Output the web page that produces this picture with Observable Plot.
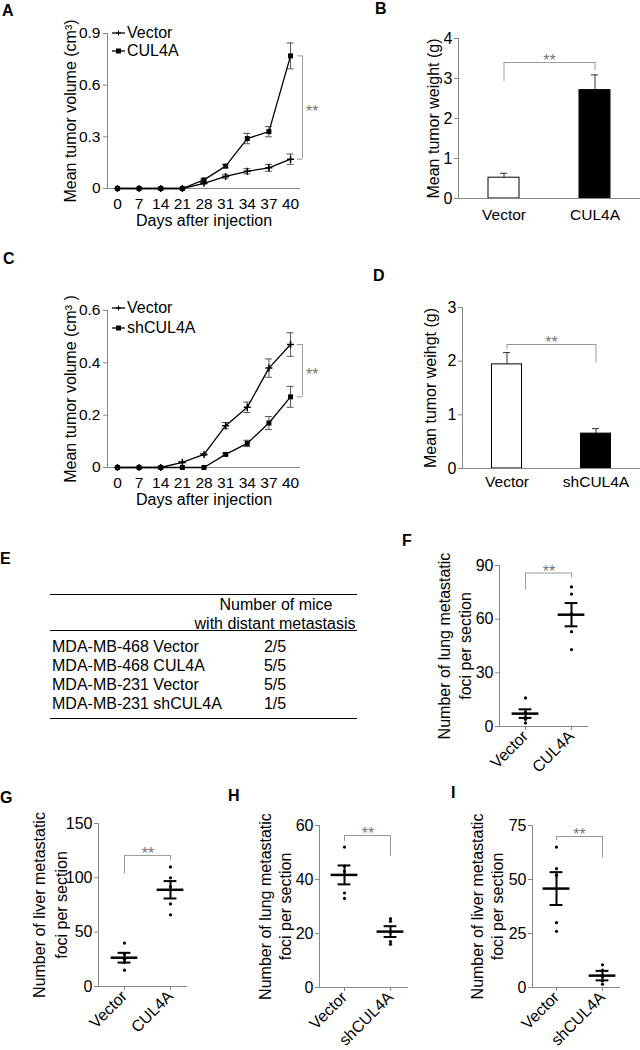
<!DOCTYPE html>
<html><head><meta charset="utf-8">
<script src="https://cdn.jsdelivr.net/npm/d3@7"></script>
<script src="https://cdn.jsdelivr.net/npm/@observablehq/plot@0.6"></script>
<style>
html,body{margin:0;padding:0;background:#fff;}
#fig{position:relative;width:640px;height:1050px;font-family:"Liberation Sans",Arial,Helvetica,sans-serif;color:#000;overflow:hidden;background:#fff;}
.panel{position:absolute;}
.letter{position:absolute;font-weight:bold;font-size:16px;line-height:1;}
.leg{position:absolute;font-size:16px;line-height:18px;height:18px;display:flex;align-items:center;white-space:nowrap;}
.leg svg{margin-right:2px;}
.trule{position:absolute;left:50px;width:307px;height:0;border-top:1.3px solid #000;}
.ttxt{position:absolute;font-size:16px;line-height:19px;height:19px;white-space:nowrap;}
</style></head>
<body><div id="fig"></div>
<script>
// ---------- data ----------
const days = ["0","7","14","21","28","31","34","37","40"];
// Panel A
const aVector    = [0,0,0,0,0.03,0.07,0.10,0.12,0.17];
const aVectorErr = [0,0,0,0,0.005,0.01,0.015,0.02,0.03];
const aCul4a     = [0,0,0,0,0.05,0.13,0.29,0.33,0.77];
const aCul4aErr  = [0,0,0,0,0.006,0.01,0.03,0.03,0.075];
const aTicks = [0,0.3,0.6,0.9];
// Panel C
const cVector    = [0,0,0,0.02,0.05,0.16,0.23,0.38,0.47];
const cVectorErr = [0,0,0,0.003,0.004,0.012,0.02,0.035,0.045];
const cSh        = [0,0,0,0,0,0.05,0.092,0.17,0.27];
const cShErr     = [0,0,0,0,0,0.005,0.012,0.025,0.04];
const cTicks = [0,0.2,0.4,0.6];
// Panel B
const bGroups = ["Vector","CUL4A"];
const bWeight = [0.52, 2.71];
const bErr    = [0.11, 0.38];
const bTicks  = [0,1,2,3,4];
// Panel D
const dGroups = ["Vector","shCUL4A"];
const dWeight = [1.94, 0.65];
const dErr    = [0.22, 0.093];
const dTicks  = [0,1,2,3];
// Panel E
const eHeader = ["Number of mice","with distant metastasis"];
const eRows   = ["MDA-MB-468 Vector","MDA-MB-468 CUL4A","MDA-MB-231 Vector","MDA-MB-231 shCUL4A"];
const eValues = ["2/5","5/5","5/5","1/5"];
// Panel F
const fGroups = ["Vector","CUL4A"];
const fVector = [16,8,5,4,2];
const fCul4a  = [78,74,63,53,43];
const fMean = [7.2, 62.5];
const fSem  = [2.4, 6.5];
const fTicks = [0,30,60,90];
// Panel G
const gGroups = ["Vector","CUL4A"];
const gVector = [40,30,25,22,15];
const gCul4a  = [110,100,92,76,66];
const gMean = [26.5, 89];
const gSem  = [4.5, 8];
const gTicks = [0,50,100,150];
// Panel H
const hGroups = ["Vector","shCUL4A"];
const hVector = [52,45,43,35,33];
const hSh     = [25.5,24.5,20.5,17,16];
const hMean = [41.7, 20.7];
const hSem  = [3.5, 2];
const hTicks = [0,20,40,60];
// Panel I
const iGroups = ["Vector","shCUL4A"];
const iVector = [65,55,52,30,26];
const iSh     = [10.5,8,5,3,1.5];
const iMean = [45.8, 5.5];
const iSem  = [7.6, 2.2];
const iTicks = [0,25,50,75];

// ---------- helpers ----------
const FONT = '"Liberation Sans", Arial, Helvetica, sans-serif';
const AX = "#888";
const BR = "#999";
const fig = document.getElementById("fig");
function place(node, left, top, width) {
  const d = document.createElement("div");
  d.className = "panel";
  d.style.left = left + "px"; d.style.top = top + "px"; d.style.width = width + "px";
  d.appendChild(node); fig.appendChild(d);
}
function letter(t, left, top) {
  const d = document.createElement("div");
  d.className = "letter"; d.textContent = t;
  d.style.left = left + "px"; d.style.top = top + "px";
  fig.appendChild(d);
}
function legendItem(label, sym, left, top) {
  const d = document.createElement("div");
  d.className = "leg"; d.style.left = left + "px"; d.style.top = (top - 9) + "px";
  const marker = sym === "square"
    ? '<rect x="4" y="3.5" width="5" height="5" fill="#000"/>'
    : '<path d="M6.5,3.5V8.5M4,6H9" stroke="#000" stroke-width="1"/>';
  d.innerHTML = '<svg width="13" height="12" viewBox="0 0 13 12"><line x1="0" y1="6" x2="13" y2="6" stroke="#000" stroke-width="1.3"/>' + marker + '</svg><span></span>';
  d.querySelector("span").textContent = label;
  fig.appendChild(d);
}
const style = {fontFamily: FONT, fontSize: "15.5px", overflow: "visible", background: "transparent", color: "#000"};

function linePanel(c) {
  const idx = days.map((d, i) => i);
  const last = idx.length - 1;
  const s1 = idx.map(i => ({i, v: c.v1[i], e: c.e1[i]}));
  const s2 = idx.map(i => ({i, v: c.v2[i], e: c.e2[i]}));
  const lo = -0.46, hi = last + 0.46;
  const top = Math.max(c.v1[last], c.v2[last]);
  const bot = Math.min(c.v1[last], c.v2[last]);
  const errs = [...s1, ...s2].filter(d => d.e > 0);
  return Plot.plot({
    width: 330, height: c.height, marginLeft: 107, marginRight: 30, marginTop: c.mt, marginBottom: c.mb,
    style,
    x: {domain: [lo, hi]},
    y: {domain: c.yDomain},
    marks: [
      Plot.ruleX([lo], {stroke: AX}),
      Plot.ruleY([0], {stroke: AX}),
      Plot.axisY({ticks: c.ticks, tickFormat: d => d === 0 ? "0" : d.toFixed(1), tickSize: 4, tickPadding: 3, stroke: AX, fill: "#000", fontSize: 15.5, label: null}),
      Plot.axisX({ticks: idx, tickFormat: i => days[i], tickSize: 0, tickPadding: 9, fill: "#000", fontSize: 15.5, label: null}),
      Plot.ruleX(errs, {x: "i", y1: d => d.v - d.e, y2: d => d.v + d.e, stroke: "#555"}),
      Plot.ruleY(errs, {x1: d => d.i - 0.16, x2: d => d.i + 0.16, y: d => d.v + d.e, stroke: "#555"}),
      Plot.ruleY(errs, {x1: d => d.i - 0.16, x2: d => d.i + 0.16, y: d => d.v - d.e, stroke: "#555"}),
      Plot.line(s1, {x: "i", y: "v", stroke: "#000", strokeWidth: 1.3}),
      Plot.line(s2, {x: "i", y: "v", stroke: "#000", strokeWidth: 1.3}),
      Plot.dot(s1, {x: "i", y: "v", symbol: c.sym1, r: 2.4, stroke: "#000", fill: c.sym1 === "square" ? "#000" : "none"}),
      Plot.dot(s2, {x: "i", y: "v", symbol: c.sym2, r: 2.8, fill: "#000", stroke: c.sym2 === "square" ? "none" : "#000"}),
      // significance bracket
      Plot.ruleX([last + 0.55], {y1: top, y2: bot, stroke: BR}),
      Plot.ruleY([top, bot], {x1: last + 0.32, x2: last + 0.55, stroke: BR}),
      Plot.text(["**"], {x: () => last + 1.0, y: () => (top + bot) / 2, dy: 4, fill: "#777", fontSize: 16}),
      // axis titles
      Plot.text([c.ylabel], {frameAnchor: "left", rotate: -90, dx: -37, textAnchor: "middle", lineAnchor: "middle", fontSize: 16}),
      Plot.text(["Days after injection"], {frameAnchor: "bottom", dy: 32, textAnchor: "middle", lineAnchor: "middle", fontSize: 16})
    ]
  });
}

function barPanel(c) {
  const data = c.groups.map((g, i) => ({g, v: c.values[i], e: c.errs[i], f: i === 0 ? "#fff" : "#000"}));
  const [g0, g1] = c.groups;
  return Plot.plot({
    width: 310, height: c.height, marginLeft: c.ml, marginRight: 0, marginTop: c.mt, marginBottom: c.mb,
    style,
    x: {type: "band", domain: c.groups, padding: 0},
    y: {domain: c.yDomain},
    color: {type: "identity"},
    marks: [
      Plot.ruleX(data, {x: "g", y1: "v", y2: d => d.v + d.e, stroke: "#333"}),
      Plot.ruleY(data, {x1: "g", x2: "g", y: d => d.v + d.e, insetLeft: c.capInset, insetRight: c.capInset, stroke: "#333"}),
      Plot.barY(data, {x: "g", y: "v", fill: "f", stroke: "#000", strokeWidth: 1, insetLeft: c.barInset, insetRight: c.barInset}),
      Plot.frame({anchor: "left", stroke: AX}),
      Plot.ruleY([0], {stroke: AX}),
      Plot.axisY({ticks: c.ticks, tickFormat: d => String(d), tickSize: 4, tickPadding: 2, stroke: AX, fill: "#000", fontSize: 16, label: null}),
      Plot.axisX({tickSize: 0, tickPadding: c.xPad, fill: "#000", fontSize: 15.5, label: null}),
      // bracket
      Plot.link([0], {x1: () => g0, x2: () => g1, y1: () => c.br.top, y2: () => c.br.top, stroke: BR}),
      Plot.ruleX([{g: g0, y: c.br.leg0}, {g: g1, y: c.br.leg1}], {x: "g", y1: () => c.br.top, y2: "y", stroke: BR}),
      Plot.text(["**"], {x: () => g0, y: () => c.br.top, dx: c.starDx, dy: -1.5, fill: "#777", fontSize: 16}),
      Plot.text([c.ylabel], {frameAnchor: "left", rotate: -90, dx: c.ylDx, textAnchor: "middle", lineAnchor: "middle", fontSize: 16})
    ]
  });
}

function scatterPanel(c) {
  const pts = c.groups.flatMap((g, i) => c.points[i].map(v => ({g, v})));
  const st = c.groups.map((g, i) => ({g, m: c.mean[i], s: c.sem[i]}));
  const [g0, g1] = c.groups;
  return Plot.plot({
    width: c.width, height: c.height, marginLeft: c.ml, marginRight: c.mr, marginTop: c.mt, marginBottom: c.mb,
    style: {...style, fontSize: "16px"},
    x: {type: "band", domain: c.groups, paddingInner: 0.4, paddingOuter: c.po, align: c.align},
    y: {domain: c.yDomain},
    marks: [
      Plot.frame({anchor: "left", stroke: AX}),
      Plot.ruleY([0], {stroke: AX}),
      Plot.axisY({ticks: c.ticks, tickFormat: d => String(d), tickSize: 4, tickPadding: 2, stroke: AX, fill: "#000", fontSize: 16, label: null}),
      Plot.axisX({tickRotate: -45, tickSize: 4, tickPadding: 3, stroke: AX, fill: "#000", fontSize: 16, label: null}),
      Plot.dot(pts, {x: "g", y: "v", r: 1.6, fill: "#000"}),
      Plot.tickY(st, {x: "g", y: "m", stroke: "#000", strokeWidth: 2.5, insetLeft: 0.6, insetRight: 0.6}),
      Plot.ruleX(st, {x: "g", y1: d => d.m - d.s, y2: d => d.m + d.s, stroke: "#000", strokeWidth: 2}),
      Plot.tickY(st, {x: "g", y: d => d.m + d.s, stroke: "#000", strokeWidth: 2, insetLeft: 7.6, insetRight: 7.6}),
      Plot.tickY(st, {x: "g", y: d => d.m - d.s, stroke: "#000", strokeWidth: 2, insetLeft: 7.6, insetRight: 7.6}),
      // bracket
      Plot.link([0], {x1: () => g0, x2: () => g1, y1: () => c.br.top, y2: () => c.br.top, stroke: BR}),
      Plot.ruleX([{g: g0, y: c.br.leg0}, {g: g1, y: c.br.leg1}], {x: "g", y1: () => c.br.top, y2: "y", stroke: BR}),
      Plot.text(["**"], {x: () => g0, y: () => c.br.top, dx: c.starDx, dy: -1.5, fill: "#777", fontSize: 16}),
      Plot.text([c.ylabel], {frameAnchor: "left", rotate: -90, dx: c.ylDx, textAnchor: "middle", lineAnchor: "middle", lineHeight: c.lh, fontSize: 16})
    ]
  });
}

// ---------- panels ----------
place(linePanel({v1: aVector, e1: aVectorErr, v2: aCul4a, e2: aCul4aErr, sym1: "plus", sym2: "square",
  yDomain: [0, 0.9], ticks: aTicks, height: 240, mt: 33, mb: 52, ylabel: "Mean tumor volume (cm³)"}), 0, 0, 330);
legendItem("Vector", "plus", 112, 33);
legendItem("CUL4A", "square", 112, 51);

place(barPanel({groups: bGroups, values: bWeight, errs: bErr, yDomain: [0, 4], ticks: bTicks,
  height: 240, ml: 128, mt: 38, mb: 42, barInset: 30, capInset: 42, xPad: 10,
  br: {top: 3.4, leg0: 2.925, leg1: 3.2}, starDx: 45.5, ylDx: -25, ylabel: "Mean tumor weight (g)"}), 330, 0, 310);

place(linePanel({v1: cVector, e1: cVectorErr, v2: cSh, e2: cShErr, sym1: "plus", sym2: "square",
  yDomain: [0, 0.6], ticks: cTicks, height: 260, mt: 60, mb: 43, ylabel: "Mean tumor volume (cm³ )"}), 0, 250, 330);
legendItem("Vector", "plus", 112, 308);
legendItem("shCUL4A", "square", 112, 328);

place(barPanel({groups: dGroups, values: dWeight, errs: dErr, yDomain: [0, 3], ticks: dTicks,
  height: 250, ml: 132, mt: 57, mb: 32, barInset: 29.5, capInset: 41, xPad: 7,
  br: {top: 2.31, leg0: 2.22, leg1: 1.97}, starDx: 44.5, ylDx: -32, ylabel: "Mean tumor weihgt (g)"}), 330, 250, 310);

// Panel E table
(function () {
  const rule = y => { const r = document.createElement("div"); r.className = "trule"; r.style.top = y + "px"; fig.appendChild(r); };
  const txt = (t, x, yc, anchor) => {
    const d = document.createElement("div"); d.className = "ttxt"; d.textContent = t;
    d.style.top = (yc - 9.5) + "px";
    if (anchor === "middle") { d.style.left = (x - 100) + "px"; d.style.width = "200px"; d.style.textAlign = "center"; }
    else d.style.left = x + "px";
    fig.appendChild(d);
  };
  rule(594);
  txt(eHeader[0], 276, 604, "middle");
  txt(eHeader[1], 275, 623, "middle");
  rule(630);
  eRows.forEach((r, i) => { txt(r, 52, 646 + 19 * i); txt(eValues[i], 275, 646 + 19 * i, "middle"); });
  rule(718);
})();

place(scatterPanel({groups: fGroups, points: [fVector, fCul4a], mean: fMean, sem: fSem, yDomain: [0, 90], ticks: fTicks,
  width: 240, height: 280, ml: 99, mr: 52, mt: 75, mb: 44, po: 0.147, align: 0.79,
  br: {top: 85.8, leg0: 76.3, leg1: 83}, starDx: 23.5, ylDx: -46, lh: 1.3,
  ylabel: "Number of lung metastatic\nfoci per section"}), 400, 490, 240);

place(scatterPanel({groups: gGroups, points: [gVector, gCul4a], mean: gMean, sem: gSem, yDomain: [0, 150], ticks: gTicks,
  width: 210, height: 300, ml: 98, mr: 23, mt: 73, mb: 64, po: 0.147, align: 0.79,
  br: {top: 120.6, leg0: 104, leg1: 116}, starDx: 23.5, ylDx: -50, lh: 1.38,
  ylabel: "Number of liver metastatic\nfoci per section"}), 0, 750, 210);

place(scatterPanel({groups: hGroups, points: [hVector, hSh], mean: hMean, sem: hSem, yDomain: [0, 60], ticks: hTicks,
  width: 210, height: 300, ml: 109, mr: 12, mt: 75, mb: 63, po: 0.147, align: 0.72,
  br: {top: 56.3, leg0: 54, leg1: 48.5}, starDx: 23.5, ylDx: -45, lh: 1.25,
  ylabel: "Number of lung metastatic\nfoci per section"}), 210, 750, 210);

place(scatterPanel({groups: iGroups, points: [iVector, iSh], mean: iMean, sem: iSem, yDomain: [0, 75], ticks: iTicks,
  width: 220, height: 300, ml: 112, mr: 20, mt: 75, mb: 63, po: 0.1565, align: 0.68,
  br: {top: 69.9, leg0: 68, leg1: 60}, starDx: 23, ylDx: -46, lh: 1.25,
  ylabel: "Number of liver metastatic\nfoci per section"}), 420, 750, 220);

// panel letters
letter("A", 2, 3); letter("B", 375, 1); letter("C", 3, 251); letter("D", 373, 268);
letter("E", 0, 551); letter("F", 402, 533); letter("G", 0, 790); letter("H", 228, 788); letter("I", 451, 785);
</script>
</body></html>
